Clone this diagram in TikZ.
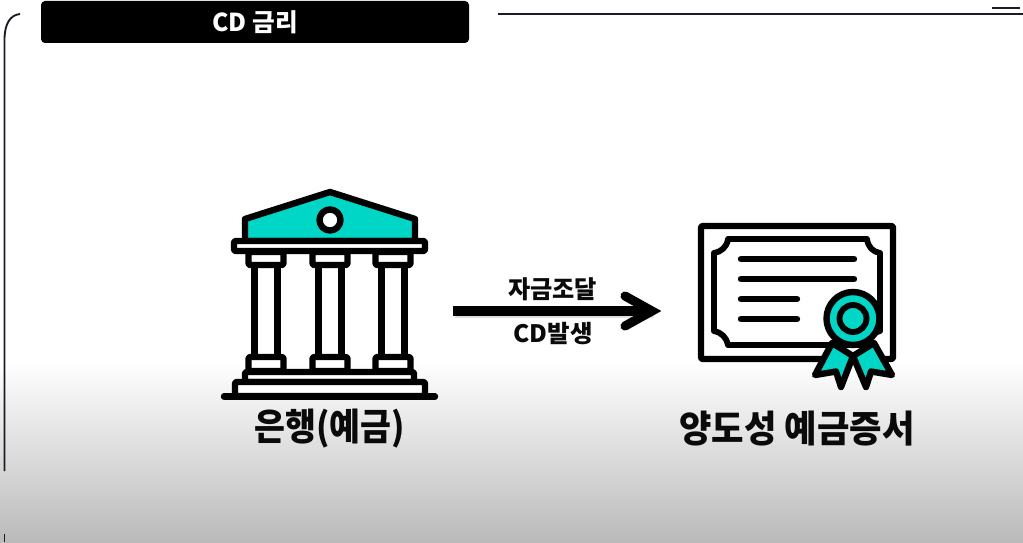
\documentclass[tikz,border=0pt]{standalone}
\usepackage{fontspec}
\setmainfont{Noto Sans CJK KR Black}
\definecolor{tealc}{HTML}{00D6C6}
\definecolor{linec}{HTML}{1B1B26}
\definecolor{inkc}{HTML}{0A0A0A}
\tikzset{
  x=0.75pt,y=-0.75pt,
  ink/.style={draw=black,line width=4.8pt,line join=round,fill=white},
  tealshape/.style={draw=black,line width=4.8pt,line join=round,fill=tealc},
  thinline/.style={draw=linec,line width=1.4pt},
  rule/.style={draw=black,line width=4.8pt,line cap=round},
  lbl/.style={text=inkc,inner sep=0pt,anchor=center},
}
\newcommand{\txt}[3]{\scalebox{#2}[1]{\fontsize{#1}{#1}\selectfont #3}}
\newcommand{\pillar}[1]{%
  \draw[ink] (#1-11.5,262) rectangle (#1+11.5,358);
  \draw[ink,rounded corners=1pt] (#1-17.5,252) rectangle (#1+17.5,265);
  \draw[ink,rounded corners=1pt] (#1-17.5,357) rectangle (#1+17.5,371);
}
\begin{document}
\begin{tikzpicture}
\useasboundingbox (0,0) rectangle (1023,542);
\fill[white] (0,0) rectangle (1023,362);
\shade[top color=white,bottom color=black!27] (0,362) rectangle (1023,542);
% frame
\draw[thinline] (20,14) .. controls (10,15) and (4.5,24) .. (4.5,40) -- (4.5,471);
\draw[thinline] (4.5,534) -- (4.5,542);
\draw[thinline] (498,14) -- (1023,14);
\draw[thinline] (992,8) -- (1020,8);
% title
\node[fill=black,rounded corners=3pt,minimum width=321pt,minimum height=31.5pt,inner sep=0pt] (title) at (255,22) {};
\node[text=white,inner sep=0pt] (titletext) at (255,22) {\txt{18.5}{1.0}{CD 금리}};
% bank
\pillar{266}\pillar{330}\pillar{393}
\draw[tealshape] (245,241) -- (245,219) -- (330,192) -- (415,219) -- (415,241) -- cycle;
\draw[ink] (330,220) circle[radius=10.5];
\draw[ink,rounded corners=1pt] (234,241) rectangle (425,251);
\draw[ink,rounded corners=1pt] (245,372) rectangle (414,382);
\draw[ink,rounded corners=1pt] (235,382) rectangle (425,396);
\coordinate (gl) at (224,396.5);
\coordinate (gr) at (435,396.5);
\draw[rule] (gl) -- (gr);
\node[lbl] (banklabel) at (329.5,429) {\txt{28}{.9}{은행(예금)}};
% arrow
\coordinate (as) at (453,311);
\coordinate (at) at (652,311);
\coordinate (au) at (625,296);
\coordinate (ad) at (625,326);
\draw[black!35,line width=6.8pt,opacity=.35] ([shift={(2,2)}]as) -- ([shift={(2,2)}]at);
\draw[black,line width=6.8pt] (as) -- (at);
\draw[black,line width=6.8pt,line cap=round,line join=miter] (au) -- (at) -- (ad);
\node[lbl] (toplabel) at (552.5,289) {\txt{18.5}{.98}{자금조달}};
\node[lbl] (botlabel) at (553,333.5) {\txt{18}{1.02}{CD발생}};
% certificate
\draw[ink,rounded corners=1pt] (701,226) rectangle (893,359);
\draw[draw=black,line width=4.4pt,line join=round,fill=white]
  (728,239) -- (867,239)
  .. controls (868,247) and (873,252) .. (880,253) -- (880,331)
  .. controls (873,332) and (868,338) .. (867,345) -- (728,345)
  .. controls (727,338) and (721,332) .. (714,331) -- (714,253)
  .. controls (721,252) and (727,247) .. (728,239) -- cycle;
\coordinate (l1a) at (741,259); \coordinate (l1b) at (854,259);
\coordinate (l2a) at (741,279); \coordinate (l2b) at (854,279);
\coordinate (l3a) at (741,299); \coordinate (l3b) at (797,299);
\coordinate (l4a) at (741,319); \coordinate (l4b) at (797,319);
\draw[rule] (l1a) -- (l1b);
\draw[rule] (l2a) -- (l2b);
\draw[rule] (l3a) -- (l3b);
\draw[rule] (l4a) -- (l4b);
\draw[tealshape] (832,343) -- (815,375) -- (836,371.5) -- (841,387) -- (853,356) -- cycle;
\draw[tealshape] (874,343) -- (892,375) -- (871,371.5) -- (866,387) -- (853,356) -- cycle;
\draw[tealshape] (853,318.5) circle[radius=26.5];
\draw[draw=black,line width=4.4pt,fill=tealc] (853,318.5) circle[radius=13.5];
\node[lbl] (certlabel) at (797,429) {\txt{28}{.945}{양도성 예금증서}};
\end{tikzpicture}
\end{document}
